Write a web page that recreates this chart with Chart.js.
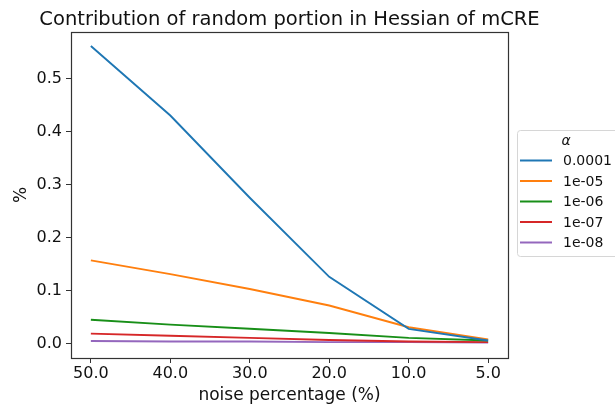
<!DOCTYPE html>
<html>
<head>
<meta charset="utf-8">
<script src="https://cdn.jsdelivr.net/npm/chart.js@4/dist/chart.umd.min.js"></script>
<style>
  html, body { margin: 0; padding: 0; background: #fff; }
  #c { display: block; }
</style>
</head>
<body>
<canvas id="c" width="615" height="409"></canvas>
<script>
// ---- data ----
const chartTitle = "Contribution of random portion in Hessian of mCRE";
const noiseLabels = ["50.0", "40.0", "30.0", "20.0", "10.0", "5.0"];
const alphaLabels = ["0.0001", "1e-05", "1e-06", "1e-07", "1e-08"];
const alpha1e4 = [0.561, 0.430, 0.275, 0.126, 0.028, 0.006];
const alpha1e5 = [0.157, 0.131, 0.103, 0.072, 0.031, 0.008];
const alpha1e6 = [0.045, 0.036, 0.028, 0.020, 0.011, 0.006];
const alpha1e7 = [0.019, 0.015, 0.011, 0.007, 0.004, 0.003];
const alpha1e8 = [0.005, 0.004, 0.004, 0.003, 0.003, 0.002];
const yTickValues = [0.0, 0.1, 0.2, 0.3, 0.4, 0.5];
const colors = ["#1f77b4", "#ff7f0e", "#188f18", "#d62728", "#9467bd"];

const seriesList = [alpha1e4, alpha1e5, alpha1e6, alpha1e7, alpha1e8];
const datasets = seriesList.map((vals, k) => ({
  label: alphaLabels[k],
  data: vals.map((v, i) => ({ x: i, y: v })),
  borderColor: colors[k],
  backgroundColor: colors[k],
  borderWidth: 1.9,
  pointRadius: 0,
  tension: 0,
  fill: false
}));

const FONT = "'DejaVu Sans', sans-serif";
const TXT = "#111";
const AX = "#333";

const framePlugin = {
  id: 'frameAndLegend',
  afterDraw(chart) {
    const { ctx, chartArea: a } = chart;
    ctx.save();
    // title centred over the axes
    ctx.fillStyle = TXT;
    ctx.font = "19.5px " + FONT;
    ctx.textAlign = 'center';
    ctx.textBaseline = 'alphabetic';
    ctx.fillText(chartTitle, (a.left + a.right) / 2, 24.5);
    // full axes frame
    ctx.strokeStyle = AX;
    ctx.lineWidth = 1.2;
    ctx.strokeRect(Math.round(a.left) + 0.5, Math.round(a.top) + 0.5,
                   Math.round(a.right - a.left), Math.round(a.bottom - a.top));
    // legend box
    const bx = 517.5, by = 130.5, bw = 110, bh = 126, r = 3;
    ctx.beginPath();
    ctx.moveTo(bx + r, by);
    ctx.lineTo(bx + bw - r, by);
    ctx.arcTo(bx + bw, by, bx + bw, by + r, r);
    ctx.lineTo(bx + bw, by + bh - r);
    ctx.arcTo(bx + bw, by + bh, bx + bw - r, by + bh, r);
    ctx.lineTo(bx + r, by + bh);
    ctx.arcTo(bx, by + bh, bx, by + bh - r, r);
    ctx.lineTo(bx, by + r);
    ctx.arcTo(bx, by, bx + r, by, r);
    ctx.closePath();
    ctx.fillStyle = "rgba(255,255,255,0.8)";
    ctx.fill();
    ctx.strokeStyle = "#d6d6d6";
    ctx.lineWidth = 1;
    ctx.stroke();
    // legend title
    ctx.fillStyle = TXT;
    ctx.textBaseline = 'middle';
    ctx.textAlign = 'center';
    ctx.font = "italic 14px " + FONT;
    ctx.fillText("α", 566, 141);
    // entries
    ctx.textAlign = 'left';
    ctx.font = "14px " + FONT;
    chart.data.datasets.forEach((ds, k) => {
      const y = 160.5 + k * 20.5;
      ctx.strokeStyle = ds.borderColor;
      ctx.lineWidth = 2;
      ctx.beginPath();
      ctx.moveTo(520, y);
      ctx.lineTo(552, y);
      ctx.stroke();
      ctx.fillStyle = TXT;
      ctx.fillText(ds.label, 563, y + 1);
    });
    ctx.restore();
  }
};

new Chart(document.getElementById('c'), {
  type: 'line',
  data: { datasets },
  plugins: [framePlugin],
  options: {
    responsive: false,
    animation: false,
    devicePixelRatio: 1,
    layout: { padding: { left: 0, right: 107, top: 31.7, bottom: 0 } },
    plugins: {
      legend: { display: false },
      tooltip: { enabled: false },
      title: { display: false }
    },
    scales: {
      x: {
        type: 'linear',
        min: -0.25,
        max: 5.25,
        afterBuildTicks: (s) => { s.ticks = noiseLabels.map((_, i) => ({ value: i })); },
        afterFit: (s) => { s.height = 51; },
        ticks: {
          callback: (v) => noiseLabels[v],
          color: TXT,
          font: { family: FONT, size: 16 },
          padding: 1,
          maxRotation: 0,
          autoSkip: false
        },
        grid: { display: true, drawOnChartArea: false, drawTicks: true, tickLength: 5, color: AX, lineWidth: 1 },
        border: { display: false },
        title: {
          display: true,
          text: "noise percentage (%)",
          color: TXT,
          font: { family: FONT, size: 17 },
          padding: { top: 0, bottom: 3.3 }
        }
      },
      y: {
        type: 'linear',
        min: -0.027,
        max: 0.588,
        afterBuildTicks: (s) => { s.ticks = yTickValues.map(v => ({ value: v })); },
        afterFit: (s) => { s.width = 71; },
        ticks: {
          callback: (v) => v.toFixed(1),
          color: TXT,
          font: { family: FONT, size: 16 },
          padding: 4
        },
        grid: { display: true, drawOnChartArea: false, drawTicks: true, tickLength: 5, color: AX, lineWidth: 1 },
        border: { display: false },
        title: {
          display: true,
          text: "%",
          color: TXT,
          font: { family: FONT, size: 17 },
          padding: { top: 11.5, bottom: 0 }
        }
      }
    }
  }
});
</script>
</body>
</html>
